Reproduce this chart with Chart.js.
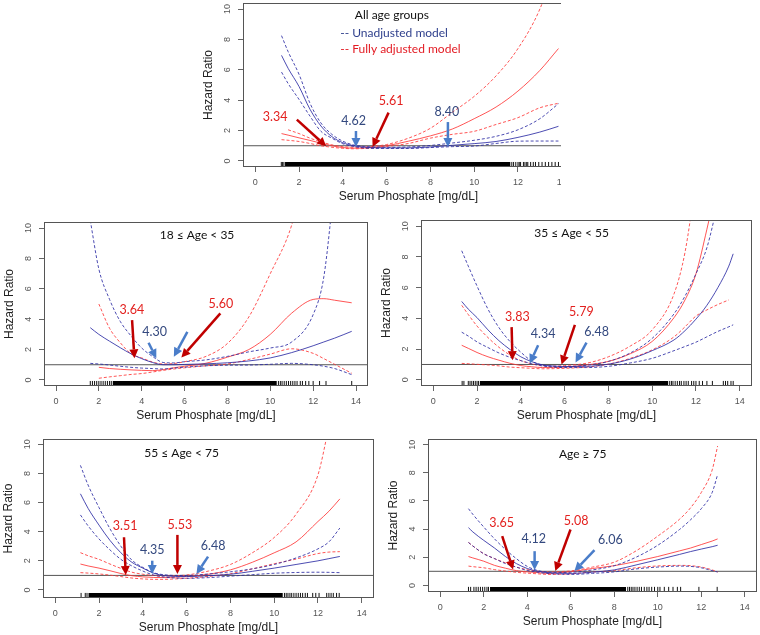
<!DOCTYPE html>
<html>
<head>
<meta charset="utf-8">
<script src="https://cdn.jsdelivr.net/npm/chart.js@4/dist/chart.umd.min.js"></script>
<style>
html,body{margin:0;padding:0;background:#fff;}
body{width:760px;height:635px;position:relative;overflow:hidden;}
.wrap{position:absolute;overflow:hidden;}
canvas{position:absolute;}
</style>
</head>
<body>
<script>
// ---------- axis ticks ----------
const X_TICKS = [0, 2, 4, 6, 8, 10, 12, 14];
const Y_TICKS = [0, 2, 4, 6, 8, 10];

// ---------- All age groups ----------
const allX       = [1.2, 1.5, 2, 2.5, 3, 3.5, 4, 4.5, 5, 5.5, 6, 7, 8, 9, 10, 11, 12, 13, 13.85];
const allUnadj   = [6.95, 6.1, 4.9, 3.4, 2.3, 1.6, 1.2, 1.0, 0.9, 0.87, 0.86, 0.86, 0.92, 1.03, 1.14, 1.28, 1.55, 1.9, 2.28];
const allUnadjLo = [5.85, 5.1, 4.05, 2.95, 1.95, 1.5, 1.13, 0.95, 0.85, 0.82, 0.82, 0.82, 0.88, 0.94, 0.98, 1.15, 1.3, 1.31, 1.31];
const allUnadjHi = [8.25, 7.2, 5.7, 3.8, 2.5, 1.75, 1.3, 1.05, 0.95, 0.92, 0.9, 0.92, 1.02, 1.18, 1.36, 1.62, 2.05, 2.78, 3.77];
const allAdj     = [1.8, 1.7, 1.52, 1.35, 1.17, 1.0, 0.88, 0.84, 0.85, 0.9, 1.0, 1.3, 1.65, 2.1, 2.78, 3.55, 4.6, 5.96, 7.4];
const allAdjLo   = [1.4, 1.36, 1.28, 1.15, 1.0, 0.9, 0.83, 0.8, 0.82, 0.87, 0.95, 1.15, 1.5, 1.75, 1.95, 2.4, 2.85, 3.5, 3.8];
const allAdjHi   = [null, 2.05, 1.8, 1.5, 1.26, 1.06, 0.94, 0.9, 0.92, 0.98, 1.08, 1.5, 2.15, 3.2, 4.25, 5.6, 7.4, 10.0, 13.5];
const allRugDense = [1.36, 11.65];
const allRugTicks = [1.19, 1.25, 1.31, 11.72, 11.8, 11.9, 12.0, 12.06, 12.12, 12.25, 12.32, 12.4, 12.45, 12.58, 12.7, 12.8, 12.95, 13.1, 13.25, 13.4, 13.55, 13.7, 13.85];

// ---------- 18 <= Age < 35 ----------
const y18X       = [1.6, 2, 2.5, 3, 3.5, 4, 4.5, 5, 5.5, 6, 7, 8, 9, 10, 11, 12, 12.5, 13, 13.8];
const y18Unadj   = [3.44, 3.0, 2.55, 2.12, 1.72, 1.4, 1.15, 1.0, 1.0, 1.02, 1.06, 1.13, 1.25, 1.45, 1.8, 2.25, 2.5, 2.75, 3.2];
const y18UnadjLo = [1.09, 1.05, 0.98, 0.9, 0.83, 0.78, 0.75, 0.72, 0.78, 0.84, 0.93, 0.97, 0.98, 1.03, 1.09, 1.0, 0.9, 0.75, 0.35];
const y18UnadjHi = [10.5, 7.3, 5.3, 3.85, 2.9, 2.1, 1.55, 1.15, 1.12, 1.2, 1.32, 1.55, 1.85, 2.1, 2.5, 4.3, 6.8, 13, null];
const y18Adj     = [null, 0.83, 0.75, 0.7, 0.66, 0.63, 0.61, 0.68, 0.8, 0.9, 1.1, 1.5, 2.0, 3.0, 4.4, 5.3, 5.35, 5.25, 5.08];
const y18AdjLo   = [null, 0.11, 0.2, 0.28, 0.36, 0.42, 0.52, 0.63, 0.72, 0.8, 0.93, 1.05, 1.35, 1.7, 2.05, 1.75, 1.4, 1.03, 0.44];
const y18AdjHi   = [null, 5.0, 3.4, 2.45, 1.72, 1.45, 1.18, 1.05, 1.08, 1.2, 1.55, 2.4, 4.15, 7.0, 10.2, 16, null, null, null];
const y18RugDense = [2.65, 10.3];
const y18RugTicks = [1.6, 1.7, 1.8, 1.9, 2.0, 2.1, 2.2, 2.3, 2.4, 2.5, 2.58, 10.38, 10.47, 10.55, 10.65, 10.75, 10.85, 10.95, 11.05, 11.15, 11.25, 11.4, 11.5, 11.65, 11.8, 12.0, 12.3, 12.6, 13.8];

// ---------- 35 <= Age < 55 ----------
const y35X       = [1.3, 1.6, 2, 2.5, 3, 3.5, 4, 4.5, 5, 5.5, 6, 7, 8, 9, 10, 11, 11.5, 12, 12.5, 13, 13.5, 13.7];
const y35Unadj   = [5.1, 4.6, 4.05, 3.25, 2.55, 1.98, 1.5, 1.18, 0.97, 0.9, 0.87, 0.88, 1.02, 1.35, 1.9, 2.6, 3.2, 3.95, 4.85, 6.0, 7.4, 8.2];
const y35UnadjLo = [3.1, 2.85, 2.47, 2.1, 1.75, 1.47, 1.25, 1.05, 0.9, 0.83, 0.8, 0.8, 0.88, 1.1, 1.4, 1.9, 2.17, 2.45, 2.8, 3.15, 3.45, 3.58];
const y35UnadjHi = [8.4, 7.4, 6.1, 4.6, 3.4, 2.5, 1.8, 1.22, 0.95, 0.88, 0.86, 0.95, 1.2, 1.75, 2.7, 4.3, 5.45, 6.9, 8.6, 11.5, null, null];
const y35Adj     = [2.25, 2.05, 1.78, 1.5, 1.28, 1.08, 0.93, 0.85, 0.8, 0.8, 0.83, 0.97, 1.2, 1.7, 2.5, 4.05, 5.2, 6.9, 9.8, 13, null, null];
const y35AdjLo   = [1.07, 1.05, 1.01, 0.97, 0.91, 0.83, 0.79, 0.75, 0.72, 0.73, 0.75, 0.83, 1.02, 1.4, 1.95, 2.8, 3.45, 4.15, 4.55, 4.9, 5.2, null];
const y35AdjHi   = [4.85, 4.25, 3.5, 2.75, 2.12, 1.62, 1.25, 1.04, 0.92, 0.9, 0.93, 1.08, 1.5, 2.2, 3.25, 5.6, 8.3, 13, null, null, null, null];
const y35RugDense = [2.13, 10.73];
const y35RugTicks = [1.32, 1.4, 1.6, 1.68, 1.76, 1.84, 1.92, 2.0, 2.07, 10.8, 10.88, 10.95, 11.05, 11.15, 11.25, 11.33, 11.45, 11.55, 11.65, 11.8, 11.9, 12.0, 12.15, 12.3, 12.5, 12.75, 13.25, 13.35, 13.45, 13.6, 13.7];

// ---------- 55 <= Age < 75 ----------
const y55X       = [1.15, 1.5, 2, 2.5, 3, 3.5, 4, 4.5, 5, 5.5, 6, 7, 8, 9, 10, 11, 12, 12.5, 13];
const y55Unadj   = [6.6, 5.6, 4.45, 3.4, 2.55, 1.9, 1.5, 1.15, 0.98, 0.93, 0.92, 0.98, 1.08, 1.28, 1.5, 1.75, 2.0, 2.15, 2.3];
const y55UnadjLo = [5.15, 4.4, 3.5, 2.75, 2.1, 1.65, 1.3, 1.02, 0.88, 0.82, 0.8, 0.85, 0.95, 1.05, 1.15, 1.2, 1.22, 1.21, 1.19];
const y55UnadjHi = [8.55, 7.2, 5.65, 4.2, 3.0, 2.05, 1.55, 1.18, 1.04, 1.0, 1.0, 1.1, 1.25, 1.45, 1.75, 2.2, 2.82, 3.3, 4.25];
const y55Adj     = [1.78, 1.65, 1.5, 1.32, 1.13, 0.98, 0.9, 0.86, 0.85, 0.88, 0.92, 1.08, 1.38, 1.9, 2.55, 3.3, 4.7, 5.4, 6.25];
const y55AdjLo   = [1.19, 1.16, 1.1, 1.02, 0.92, 0.82, 0.76, 0.73, 0.73, 0.76, 0.8, 0.93, 1.12, 1.45, 1.8, 2.12, 2.5, 2.6, 2.63];
const y55AdjHi   = [2.56, 2.35, 2.1, 1.78, 1.48, 1.22, 1.08, 1.0, 0.96, 0.98, 1.03, 1.3, 1.75, 2.55, 3.6, 5.2, 7.9, 11.2, null];
const y55RugDense = [1.52, 10.39];
const y55RugTicks = [1.18, 1.37, 1.45, 10.47, 10.55, 10.63, 10.72, 10.8, 10.9, 11.0, 11.1, 11.2, 11.3, 11.42, 11.52, 11.76, 11.9, 12.05, 12.4, 12.5, 12.6, 12.7, 12.85, 12.97];

// ---------- Age >= 75 ----------
const y75X       = [1.3, 1.5, 2, 2.5, 3, 3.5, 4, 4.5, 5, 5.5, 6, 7, 8, 9, 10, 11, 11.5, 12, 12.5, 12.75];
const y75Unadj   = [4.1, 3.8, 3.2, 2.65, 2.05, 1.55, 1.2, 1.0, 0.9, 0.86, 0.85, 0.94, 1.1, 1.45, 1.82, 2.2, 2.4, 2.58, 2.75, 2.85];
const y75UnadjLo = [3.05, 2.8, 2.25, 1.9, 1.55, 1.3, 1.06, 0.93, 0.84, 0.8, 0.78, 0.85, 0.96, 1.17, 1.3, 1.37, 1.35, 1.25, 1.05, 0.95];
const y75UnadjHi = [5.45, 5.05, 4.15, 3.3, 2.55, 1.9, 1.35, 1.05, 0.94, 0.92, 0.93, 1.1, 1.4, 2.0, 2.85, 3.97, 4.65, 5.45, 6.6, 7.87];
const y75Adj     = [2.05, 1.95, 1.72, 1.42, 1.22, 1.05, 0.96, 0.9, 0.85, 0.9, 0.97, 1.2, 1.4, 1.7, 2.05, 2.45, 2.65, 2.9, 3.15, 3.3];
const y75AdjLo   = [1.37, 1.33, 1.25, 1.12, 1.02, 0.93, 0.87, 0.82, 0.78, 0.79, 0.82, 0.95, 1.05, 1.25, 1.38, 1.42, 1.4, 1.3, 1.1, 0.95];
const y75AdjHi   = [3.05, 2.8, 2.25, 1.9, 1.6, 1.3, 1.12, 1.0, 0.95, 0.98, 1.03, 1.3, 1.65, 2.45, 3.5, 4.7, 5.5, 6.6, 8.2, 9.9];
const y75RugDense = [2.29, 8.54];
const y75RugTicks = [1.3, 1.4, 1.55, 1.65, 1.75, 1.85, 1.95, 2.05, 2.15, 2.22, 8.62, 8.7, 8.78, 8.86, 8.95, 9.05, 9.15, 9.25, 9.38, 9.5, 9.6, 9.72, 9.85, 10.0, 10.1, 10.3, 10.5, 10.7, 10.9, 11.05, 11.89, 12.73];

// ---------- panel annotations (data coordinates) ----------
const allTexts = [
  ['All age groups', 6.24, 9.6, 'title', 'center'],
  ['-- Unadjusted model', 3.88, 8.42, 'legBlue', 'left'],
  ['-- Fully adjusted model', 3.88, 7.33, 'legRed', 'left'],
  ['3.34', 0.91, 2.87, 'red', 'center'],
  ['4.62', 4.49, 2.63, 'blue', 'center'],
  ['5.61', 6.21, 3.94, 'red', 'center'],
  ['8.40', 8.75, 3.22, 'blue', 'center']
];
const allArrows = [[1.9, 2.72, 3.24, 0.96, 'red'], [4.6, 1.97, 4.6, 0.92, 'blue'], [6.09, 3.18, 5.36, 0.92, 'red'], [8.8, 2.56, 8.8, 0.92, 'blue']];
const y18Texts = [
  ['18 ≤ Age < 35', 6.58, 9.52, 'title', 'center'],
  ['3.64', 3.54, 4.6, 'red', 'center'],
  ['4.30', 4.6, 3.17, 'blue', 'center'],
  ['5.60', 7.69, 5.03, 'red', 'center']
];
const y18Arrows = [[3.55, 3.94, 3.66, 1.42, 'red'], [4.32, 2.45, 4.68, 1.42, 'blue'], [6.13, 3.17, 5.5, 1.53, 'blue'], [7.67, 4.38, 5.85, 1.47, 'red']];
const y35Texts = [
  ['35 ≤ Age < 55', 6.32, 9.57, 'title', 'center'],
  ['3.83', 3.84, 4.07, 'red', 'center'],
  ['4.34', 5.02, 3.0, 'blue', 'center'],
  ['5.79', 6.77, 4.39, 'red', 'center'],
  ['6.48', 7.46, 3.1, 'blue', 'center']
];
const y35Arrows = [[3.58, 3.43, 3.62, 1.28, 'red'], [4.79, 2.25, 4.41, 1.07, 'blue'], [6.47, 3.58, 5.86, 1.0, 'red'], [7.0, 2.42, 6.5, 1.13, 'blue']];
const y55Texts = [
  ['55 ≤ Age < 75', 5.77, 9.38, 'title', 'center'],
  ['3.51', 3.19, 4.39, 'red', 'center'],
  ['4.35', 4.43, 2.75, 'blue', 'center'],
  ['5.53', 5.69, 4.46, 'red', 'center'],
  ['6.48', 7.21, 3.02, 'blue', 'center']
];
const y55Arrows = [[3.14, 3.62, 3.22, 1.03, 'red'], [4.43, 2.01, 4.43, 1.1, 'blue'], [5.58, 3.78, 5.58, 1.1, 'red'], [6.98, 2.29, 6.45, 1.1, 'blue']];
const y75Texts = [
  ['Age ≥ 75', 6.55, 9.34, 'title', 'center'],
  ['3.65', 2.82, 4.44, 'red', 'center'],
  ['4.12', 4.3, 3.31, 'blue', 'center'],
  ['5.08', 6.25, 4.56, 'red', 'center'],
  ['6.06', 7.82, 3.26, 'blue', 'center']
];
const y75Arrows = [[2.85, 3.5, 3.35, 1.13, 'red'], [4.34, 2.43, 4.34, 1.09, 'blue'], [5.99, 3.97, 5.29, 1.02, 'red'], [7.09, 2.5, 6.17, 1.02, 'blue']];

// ---------- layout / style ----------
const YW = 50, XH = 42, PT = 14, PR = 14;
const AXIS_FONT = "'Liberation Sans', Arial, sans-serif";
const NOTE_FONT = "Lato, 'Open Sans', sans-serif";
const BLUE_LINE = 'rgba(45,45,165,0.85)';
const RED_LINE = 'rgba(255,55,55,0.85)';
const TEXT_STYLE = {
  title:   { color: '#111111', size: 12 },
  legBlue: { color: '#2E3F8C', size: 12 },
  legRed:  { color: '#E31B23', size: 12 },
  red:     { color: '#E3211F', size: 12.5 },
  blue:    { color: '#34497F', size: 12.5 }
};
const ARROW_COLOR = { red: '#C00000', blue: '#4A7DC9' };

const panels = [
  { rect: [243, 3, 574, 167], clipW: 561, yMin: -0.4, yMax: 10.4, rugY: -0.24,
    xs: allX, u: allUnadj, uLo: allUnadjLo, uHi: allUnadjHi, a: allAdj, aLo: allAdjLo, aHi: allAdjHi,
    rugDense: allRugDense, rugTicks: allRugTicks, texts: allTexts, arrows: allArrows },
  { rect: [44, 222, 368, 386], yMin: -0.4, yMax: 10.4, rugY: -0.24,
    xs: y18X, u: y18Unadj, uLo: y18UnadjLo, uHi: y18UnadjHi, a: y18Adj, aLo: y18AdjLo, aHi: y18AdjHi,
    rugDense: y18RugDense, rugTicks: y18RugTicks, texts: y18Texts, arrows: y18Arrows },
  { rect: [421, 220, 752, 386], yMin: -0.4, yMax: 10.4, rugY: -0.24,
    xs: y35X, u: y35Unadj, uLo: y35UnadjLo, uHi: y35UnadjHi, a: y35Adj, aLo: y35AdjLo, aHi: y35AdjHi,
    rugDense: y35RugDense, rugTicks: y35RugTicks, texts: y35Texts, arrows: y35Arrows },
  { rect: [43, 439, 374, 598], yMin: -0.55, yMax: 10.36, rugY: -0.38,
    xs: y55X, u: y55Unadj, uLo: y55UnadjLo, uHi: y55UnadjHi, a: y55Adj, aLo: y55AdjLo, aHi: y55AdjHi,
    rugDense: y55RugDense, rugTicks: y55RugTicks, texts: y55Texts, arrows: y55Arrows },
  { rect: [428, 439, 757, 592], yMin: -0.47, yMax: 10.4, rugY: -0.29,
    xs: y75X, u: y75Unadj, uLo: y75UnadjLo, uHi: y75UnadjHi, a: y75Adj, aLo: y75AdjLo, aHi: y75AdjHi,
    rugDense: y75RugDense, rugTicks: y75RugTicks, texts: y75Texts, arrows: y75Arrows }
];
const X_MIN = -0.56, X_MAX = 14.56;

function curve(xs, ys, color, dashed) {
  return {
    data: xs.map((x, i) => ({ x: x, y: ys[i] })),
    borderColor: color, borderWidth: 1, borderDash: dashed ? [3, 2] : [],
    pointRadius: 0, fill: false, cubicInterpolationMode: 'monotone', spanGaps: false
  };
}

function drawArrow(ctx, x0, y0, x1, y1, color) {
  const ang = Math.atan2(y1 - y0, x1 - x0);
  const hl = 9, hw = 4.5;
  const bx = x1 - hl * Math.cos(ang), by = y1 - hl * Math.sin(ang);
  ctx.strokeStyle = color; ctx.lineWidth = 2.5; ctx.lineCap = 'butt';
  ctx.beginPath(); ctx.moveTo(x0, y0); ctx.lineTo(bx, by); ctx.stroke();
  ctx.fillStyle = color;
  ctx.beginPath();
  ctx.moveTo(x1, y1);
  ctx.lineTo(bx + hw * Math.sin(ang), by - hw * Math.cos(ang));
  ctx.lineTo(bx - hw * Math.sin(ang), by + hw * Math.cos(ang));
  ctx.closePath(); ctx.fill();
}

function makeAnno(p) {
  return {
    id: 'anno',
    afterDatasetsDraw(chart) {
      const { ctx, chartArea: a, scales: { x, y } } = chart;
      ctx.save();
      ctx.strokeStyle = '#555'; ctx.lineWidth = 1;
      ctx.strokeRect(a.left + 0.5, a.top + 0.5, a.right - a.left - 1, a.bottom - a.top - 1);
      p.arrows.forEach(([x0, y0, x1, y1, k]) => {
        drawArrow(ctx, x.getPixelForValue(x0), y.getPixelForValue(y0), x.getPixelForValue(x1), y.getPixelForValue(y1), ARROW_COLOR[k]);
      });
      p.texts.forEach(([t, tx, ty, k, al]) => {
        const s = TEXT_STYLE[k];
        ctx.font = s.size + 'px ' + NOTE_FONT;
        ctx.fillStyle = s.color;
        ctx.textAlign = al; ctx.textBaseline = 'middle';
        ctx.fillText(t, x.getPixelForValue(tx), y.getPixelForValue(ty));
      });
      ctx.restore();
    }
  };
}

panels.forEach((p) => {
  const [L, T, R, B] = p.rect;
  const cw = (R - L) + YW + PR, ch = (B - T) + PT + XH;
  const cl = L - YW, ct = T - PT;
  const wrap = document.createElement('div');
  wrap.className = 'wrap';
  const wl = Math.max(cl, 0), wt = Math.max(ct, 0);
  const wr = p.clipW ? p.clipW : cl + cw;
  wrap.style.left = wl + 'px'; wrap.style.top = wt + 'px';
  wrap.style.width = (wr - wl) + 'px'; wrap.style.height = (ct + ch - wt) + 'px';
  const cv = document.createElement('canvas');
  cv.width = cw; cv.height = ch;
  cv.style.width = cw + 'px'; cv.style.height = ch + 'px';
  cv.style.left = (cl - wl) + 'px'; cv.style.top = (ct - wt) + 'px';
  wrap.appendChild(cv);
  document.body.appendChild(wrap);

  const datasets = [
    curve(p.xs, p.u, BLUE_LINE, false),
    curve(p.xs, p.uLo, BLUE_LINE, true),
    curve(p.xs, p.uHi, BLUE_LINE, true),
    curve(p.xs, p.a, RED_LINE, false),
    curve(p.xs, p.aLo, RED_LINE, true),
    curve(p.xs, p.aHi, RED_LINE, true),
    { data: [{ x: X_MIN, y: 1 }, { x: X_MAX, y: 1 }], borderColor: '#555', borderWidth: 1, pointRadius: 0 },
    { data: p.rugDense.map(v => ({ x: v, y: p.rugY })), borderColor: '#000', borderWidth: 5, pointRadius: 0, borderCapStyle: 'butt' },
    { data: p.rugTicks.map(v => ({ x: v, y: p.rugY })), showLine: false, pointStyle: 'line', pointRotation: 90,
      pointRadius: 2.6, pointBorderWidth: 1, pointBorderColor: '#111', borderColor: '#111' }
  ];

  const gridOpts = { display: true, drawOnChartArea: false, drawTicks: true, tickLength: 5, color: '#666', lineWidth: 1 };
  new Chart(cv, {
    type: 'line',
    data: { datasets },
    options: {
      responsive: false, animation: false, devicePixelRatio: 1, events: [],
      layout: { padding: { top: PT, right: PR, left: 0, bottom: 0 } },
      plugins: { legend: { display: false }, tooltip: { enabled: false } },
      scales: {
        x: {
          type: 'linear', min: X_MIN, max: X_MAX,
          afterBuildTicks: s => { s.ticks = X_TICKS.map(v => ({ value: v })); },
          afterFit: s => { s.height = XH; },
          grid: gridOpts, border: { display: false },
          ticks: { font: { family: AXIS_FONT, size: 9 }, color: '#555', padding: 5, maxRotation: 0, minRotation: 0, autoSkip: false },
          title: { display: true, text: 'Serum Phosphate [mg/dL]', font: { family: AXIS_FONT, size: 12 }, color: '#222', padding: { top: 0, bottom: 5 } }
        },
        y: {
          type: 'linear', min: p.yMin, max: p.yMax,
          afterBuildTicks: s => { s.ticks = Y_TICKS.map(v => ({ value: v })); },
          afterFit: s => { s.width = YW; },
          grid: gridOpts, border: { display: false },
          ticks: { font: { family: AXIS_FONT, size: 9 }, color: '#555', padding: 5.5, minRotation: 90, maxRotation: 90, crossAlign: 'center', autoSkip: false },
          title: { display: true, text: 'Hazard Ratio', font: { family: AXIS_FONT, size: 12 }, color: '#222', padding: { top: 8.8, bottom: 0 } }
        }
      }
    },
    plugins: [makeAnno(p)]
  });
});
</script>
</body>
</html>
